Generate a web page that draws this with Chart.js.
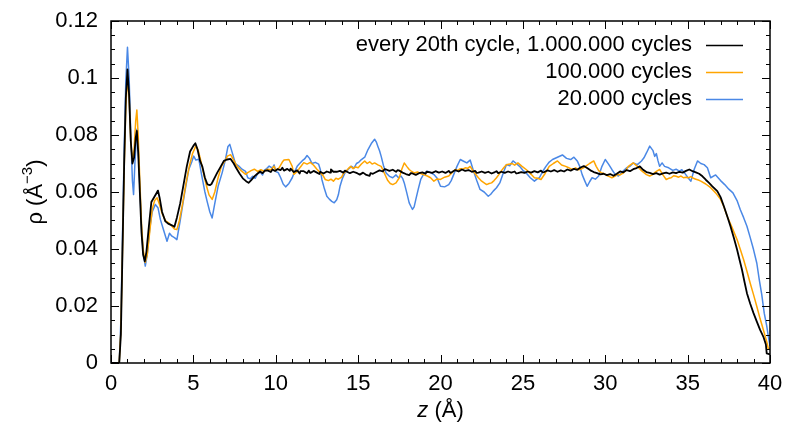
<!DOCTYPE html>
<html>
<head>
<meta charset="utf-8">
<script src="https://cdn.jsdelivr.net/npm/chart.js@4"></script>
<style>
  html, body { margin: 0; padding: 0; background: #fff; }
  #wrap { width: 787px; height: 430px; }
</style>
</head>
<body>
<div id="wrap"><canvas id="rhoChart" width="787" height="430"></canvas></div>
<script>
// z (Å) und rho (Å^-3)
const blackZ = [0,0.5,0.6,0.7,0.8,0.9,1.0,1.1,1.2,1.3,1.4,1.5,1.57,1.65,1.75,1.85,1.95,2.05,2.15,2.3,2.45,2.6,2.75,2.85,2.95,3.1,3.3,3.5,3.7,3.85,4.0,4.2,4.4,4.6,4.8,5.0,5.12,5.25,5.4,5.55,5.7,5.85,6.0,6.1,6.25,6.45,6.65,6.85,7.05,7.26,7.45,7.6,7.8,8.0,8.2,8.35,8.5,8.7,8.9,9.05,9.2,9.35,9.5,9.7,9.8,9.95,10.1,10.3,10.4,10.5,10.7,10.85,10.9,11.1,11.3,11.45,11.5,11.7,11.9,12.0,12.1,12.3,12.5,12.65,12.7,12.9,13.1,13.3,13.35,13.5,13.7,13.9,14.1,14.2,14.3,14.5,14.7,14.9,15.0,15.1,15.3,15.5,15.7,15.75,15.9,16.1,16.3,16.5,16.6,16.7,16.9,17.1,17.3,17.4,17.5,17.7,17.9,18.1,18.2,18.3,18.5,18.7,18.9,19.1,19.15,19.3,19.5,19.7,19.9,20.1,20.3,20.5,20.6,20.7,20.9,21.1,21.3,21.5,21.7,21.9,22.1,22.2,22.3,22.5,22.7,22.9,23.1,23.3,23.4,23.5,23.7,23.9,24.1,24.3,24.5,24.6,24.7,24.9,25.1,25.3,25.5,25.7,25.9,26.1,26.2,26.3,26.5,26.7,26.9,27.1,27.3,27.5,27.7,27.9,28.1,28.3,28.5,28.7,28.9,29.1,29.3,29.5,29.7,29.9,30.1,30.3,30.5,30.7,30.9,31.1,31.3,31.5,31.7,31.9,32.1,32.3,32.5,32.7,32.9,33.1,33.3,33.5,33.7,33.9,34.1,34.3,34.5,34.7,34.9,35.1,35.3,35.5,35.7,35.9,36.1,36.3,36.5,36.8,37.0,37.2,37.4,37.6,37.8,38.0,38.15,38.3,38.45,38.6,38.8,39.0,39.2,39.4,39.6,39.75,39.8,40];
const blackRho = [0,0,0.01,0.04,0.07,0.093,0.103,0.094,0.078,0.070,0.072,0.079,0.0814,0.074,0.06,0.046,0.038,0.0357,0.039,0.048,0.0565,0.058,0.0595,0.0605,0.058,0.053,0.0497,0.0488,0.0483,0.0478,0.051,0.056,0.0625,0.069,0.0742,0.0762,0.0771,0.075,0.071,0.0688,0.065,0.0627,0.0624,0.0628,0.0645,0.0668,0.0688,0.0709,0.0714,0.0716,0.0700,0.0684,0.0665,0.0648,0.0638,0.0632,0.0641,0.0655,0.0665,0.0672,0.0666,0.0675,0.0676,0.0670,0.0679,0.0674,0.0680,0.0677,0.0685,0.0675,0.0681,0.0674,0.0682,0.0670,0.0676,0.0665,0.0673,0.0673,0.0666,0.0675,0.0667,0.0674,0.0668,0.0663,0.0671,0.0665,0.0672,0.0668,0.0679,0.0671,0.0671,0.0674,0.0668,0.0675,0.0672,0.0666,0.0671,0.0667,0.0664,0.0661,0.0668,0.0660,0.0657,0.0666,0.0664,0.0670,0.0676,0.0672,0.0680,0.0679,0.0674,0.0678,0.0671,0.0677,0.0675,0.0668,0.0663,0.0659,0.0666,0.0665,0.0660,0.0666,0.0669,0.0664,0.0671,0.0670,0.0667,0.0673,0.0668,0.0672,0.0667,0.0674,0.0667,0.0670,0.0677,0.0672,0.0679,0.0674,0.0677,0.0671,0.0674,0.0667,0.0668,0.0672,0.0667,0.0671,0.0665,0.0670,0.0673,0.0666,0.0671,0.0667,0.0672,0.0668,0.0672,0.0665,0.0666,0.0670,0.0667,0.0672,0.0668,0.0673,0.0669,0.0675,0.0669,0.0670,0.0676,0.0672,0.0677,0.0671,0.0676,0.0672,0.0679,0.0675,0.0681,0.0678,0.0686,0.0691,0.0684,0.0676,0.0670,0.0666,0.0662,0.0664,0.0659,0.0663,0.0657,0.0664,0.0672,0.0669,0.0677,0.0673,0.0680,0.0684,0.0690,0.0678,0.0670,0.0667,0.0663,0.0666,0.0661,0.0665,0.0668,0.0664,0.0669,0.0666,0.0671,0.0668,0.0674,0.0679,0.0673,0.0669,0.0664,0.0655,0.0643,0.0632,0.0620,0.0603,0.0582,0.0550,0.0516,0.0480,0.0440,0.0398,0.0362,0.0327,0.0285,0.0245,0.0208,0.0175,0.0145,0.0116,0.0092,0.0065,0.0034,0.0030];

const orangeZ = [0,0.5,0.6,0.7,0.8,0.9,1.0,1.1,1.2,1.3,1.4,1.5,1.57,1.65,1.75,1.85,1.95,2.08,2.2,2.35,2.5,2.65,2.8,2.95,3.1,3.3,3.5,3.7,3.85,4.0,4.15,4.35,4.55,4.75,4.95,5.15,5.3,5.45,5.6,5.8,5.95,6.14,6.3,6.5,6.7,6.95,7.06,7.26,7.45,7.65,7.9,8.17,8.3,8.5,8.7,8.9,9.1,9.3,9.5,9.7,9.9,10.0,10.2,10.4,10.5,10.8,11.0,11.1,11.3,11.5,11.7,11.9,12.1,12.3,12.5,12.7,12.9,13.0,13.2,13.35,13.5,13.65,13.8,14.0,14.1,14.25,14.4,14.55,14.7,14.85,15.0,15.2,15.4,15.55,15.7,15.85,16.0,16.2,16.4,16.6,16.8,16.95,17.1,17.3,17.5,17.65,17.8,17.95,18.1,18.25,18.4,18.6,18.8,19.0,19.2,19.4,19.6,19.8,20.0,20.25,20.5,20.7,20.9,21.05,21.2,21.35,21.5,21.65,21.8,22.0,22.3,22.5,22.65,22.8,22.95,23.1,23.25,23.4,23.55,23.7,23.85,24.0,24.2,24.35,24.5,24.7,24.95,25.2,25.35,25.5,25.7,25.9,26.1,26.35,26.6,26.85,27.1,27.35,27.6,27.75,27.9,28.05,28.2,28.35,28.5,28.65,28.8,29.05,29.3,29.45,29.6,29.75,29.9,30.1,30.25,30.4,30.6,30.75,30.9,31.1,31.25,31.4,31.55,31.7,31.95,32.2,32.35,32.5,32.7,32.85,33.0,33.15,33.3,33.5,33.7,33.85,34.0,34.15,34.3,34.45,34.6,34.75,34.9,35.05,35.2,35.35,35.5,35.65,35.8,36.1,36.4,36.7,37.0,37.2,37.4,37.7,38.0,38.2,38.4,38.6,38.8,39.0,39.2,39.4,39.6,39.8,39.9,40];
const orangeRho = [0,0,0.012,0.04,0.068,0.09,0.100,0.093,0.078,0.071,0.075,0.085,0.0888,0.080,0.064,0.049,0.040,0.0353,0.038,0.046,0.054,0.057,0.058,0.0555,0.0525,0.0500,0.0492,0.0480,0.0470,0.0468,0.0500,0.0560,0.0630,0.0690,0.0735,0.0762,0.0745,0.0710,0.0670,0.0620,0.0590,0.0574,0.0600,0.0650,0.0690,0.0712,0.0726,0.0731,0.0712,0.0690,0.0675,0.0662,0.0668,0.0675,0.0680,0.0672,0.0678,0.0672,0.0680,0.0678,0.0690,0.0675,0.0685,0.0705,0.0712,0.0714,0.0690,0.0662,0.0672,0.0688,0.0703,0.0698,0.0704,0.0694,0.0680,0.0668,0.0655,0.0644,0.0640,0.0645,0.0638,0.0648,0.0645,0.0652,0.0664,0.0672,0.0682,0.0690,0.0682,0.0688,0.0685,0.0698,0.0709,0.0700,0.0706,0.0698,0.0702,0.0695,0.0690,0.0665,0.0640,0.0630,0.0626,0.0632,0.0650,0.0680,0.0702,0.0690,0.0679,0.0672,0.0667,0.0670,0.0665,0.0660,0.0656,0.0650,0.0638,0.0646,0.0644,0.0652,0.0656,0.0668,0.0679,0.0676,0.0682,0.0680,0.0685,0.0683,0.0690,0.0672,0.0650,0.0638,0.0632,0.0626,0.0630,0.0632,0.0640,0.0650,0.0662,0.0675,0.0686,0.0696,0.0698,0.0700,0.0694,0.0702,0.0690,0.0679,0.0670,0.0662,0.0650,0.0648,0.0644,0.0665,0.0690,0.0700,0.0709,0.0695,0.0690,0.0686,0.0682,0.0680,0.0685,0.0678,0.0680,0.0684,0.0690,0.0700,0.0709,0.0690,0.0675,0.0668,0.0665,0.0658,0.0654,0.0650,0.0656,0.0662,0.0660,0.0667,0.0676,0.0690,0.0696,0.0702,0.0690,0.0675,0.0668,0.0661,0.0656,0.0660,0.0668,0.0674,0.0679,0.0660,0.0644,0.0648,0.0650,0.0657,0.0655,0.0652,0.0656,0.0650,0.0652,0.0650,0.0654,0.0648,0.0645,0.0642,0.0638,0.0628,0.0615,0.0597,0.0574,0.0548,0.0515,0.0475,0.0433,0.0398,0.0362,0.0322,0.0280,0.0240,0.0198,0.0155,0.0116,0.0075,0.0050,0.0048];

const blueZ = [0,0.5,0.6,0.7,0.8,0.9,1.0,1.1,1.2,1.3,1.37,1.45,1.57,1.65,1.75,1.85,1.95,2.08,2.2,2.35,2.5,2.69,2.85,3.0,3.2,3.4,3.55,3.7,3.85,4.0,4.2,4.45,4.72,4.9,5.02,5.15,5.33,5.5,5.7,5.83,6.0,6.14,6.3,6.5,6.75,6.95,7.1,7.21,7.35,7.55,7.76,7.95,8.17,8.3,8.45,8.6,8.75,8.9,9.05,9.2,9.3,9.45,9.6,9.8,9.9,10.0,10.15,10.3,10.45,10.6,10.8,11.0,11.15,11.3,11.45,11.6,11.75,11.9,12.05,12.2,12.4,12.6,12.7,12.8,12.95,13.1,13.25,13.4,13.55,13.7,13.8,13.9,14.05,14.2,14.4,14.6,14.75,14.9,15.05,15.2,15.4,15.6,15.8,16.0,16.1,16.2,16.3,16.4,16.55,16.7,16.9,17.1,17.3,17.45,17.6,17.7,17.8,17.95,18.1,18.2,18.3,18.4,18.5,18.65,18.8,19.0,19.2,19.4,19.6,19.8,20.0,20.25,20.5,20.65,20.8,21.0,21.2,21.4,21.6,21.8,21.97,22.2,22.4,22.65,22.9,23.05,23.2,23.4,23.6,23.8,24.0,24.2,24.4,24.6,24.8,25.0,25.2,25.45,25.7,25.85,26.0,26.2,26.4,26.6,26.8,27.1,27.4,27.65,27.9,28.1,28.3,28.45,28.6,28.75,28.9,29.05,29.2,29.4,29.6,29.8,30.0,30.2,30.4,30.6,30.8,31.05,31.3,31.5,31.7,31.95,32.2,32.35,32.5,32.7,32.9,33.0,33.1,33.2,33.3,33.45,33.6,33.85,34.1,34.3,34.5,34.65,34.8,35.0,35.2,35.4,35.6,35.8,36.0,36.2,36.4,36.7,37.0,37.25,37.5,37.75,38.0,38.2,38.4,38.6,38.8,39.0,39.2,39.35,39.5,39.65,39.8,39.9,40];
const blueRho = [0,0,0.015,0.045,0.075,0.099,0.1108,0.100,0.080,0.064,0.0591,0.070,0.082,0.076,0.062,0.048,0.039,0.034,0.038,0.047,0.053,0.0556,0.0545,0.0503,0.0465,0.0427,0.0455,0.0445,0.0440,0.0433,0.0500,0.0590,0.0679,0.0705,0.0726,0.0712,0.0715,0.0660,0.0600,0.0568,0.0530,0.0509,0.0560,0.0620,0.0668,0.0715,0.0760,0.0767,0.0740,0.0700,0.0691,0.0680,0.0672,0.0650,0.0646,0.0655,0.0648,0.0664,0.0670,0.0660,0.0676,0.0682,0.0691,0.0684,0.0695,0.0672,0.0668,0.0650,0.0628,0.0618,0.0630,0.0650,0.0672,0.0690,0.0700,0.0709,0.0716,0.0728,0.0718,0.0700,0.0704,0.0698,0.0680,0.0644,0.0612,0.0585,0.0575,0.0567,0.0562,0.0573,0.0590,0.0620,0.0648,0.0667,0.0680,0.0690,0.0684,0.0700,0.0705,0.0714,0.0722,0.0749,0.0770,0.0785,0.0776,0.0760,0.0745,0.0725,0.0690,0.0667,0.0655,0.0650,0.0660,0.0650,0.0656,0.0648,0.0632,0.0598,0.0562,0.0550,0.0539,0.0548,0.0573,0.0610,0.0644,0.0665,0.0673,0.0668,0.0661,0.0648,0.0620,0.0618,0.0626,0.0640,0.0661,0.0690,0.0714,0.0708,0.0702,0.0712,0.0680,0.0640,0.0609,0.0600,0.0585,0.0592,0.0603,0.0615,0.0632,0.0665,0.0696,0.0692,0.0709,0.0700,0.0690,0.0676,0.0667,0.0650,0.0638,0.0645,0.0650,0.0672,0.0690,0.0705,0.0714,0.0722,0.0730,0.0718,0.0714,0.0722,0.0709,0.0690,0.0661,0.0640,0.0620,0.0636,0.0650,0.0645,0.0656,0.0690,0.0714,0.0698,0.0679,0.0662,0.0656,0.0672,0.0685,0.0690,0.0702,0.0696,0.0709,0.0720,0.0737,0.0761,0.0745,0.0725,0.0735,0.0710,0.0690,0.0702,0.0690,0.0685,0.0676,0.0680,0.0673,0.0678,0.0668,0.0652,0.0638,0.0680,0.0709,0.0700,0.0696,0.0685,0.0650,0.0660,0.0640,0.0626,0.0610,0.0597,0.0570,0.0538,0.0510,0.0480,0.0440,0.0398,0.0350,0.0292,0.0240,0.0175,0.0130,0.0093,0.0060,0.0060];

const seriesLabels = ['every 20th cycle, 1.000.000 cycles', '100.000 cycles', '20.000 cycles'];
const seriesColors = ['#000000', '#ffa500', '#4a88e6'];
const seriesWidths = [1.8, 1.5, 1.5];
const xTicks = [0, 5, 10, 15, 20, 25, 30, 35, 40];
const yTicks = [0, 0.02, 0.04, 0.06, 0.08, 0.1, 0.12];

const FONT = '"Liberation Sans", Arial, sans-serif';
const FS = 22;

function toPoints(zs, rs) {
    return zs.map((z, i) => ({ x: z, y: rs[i] }));
}

// Rahmen, Ticks nach innen, Achsentitel und Legende
const framePlugin = {
    id: 'frame',
    afterDraw(chart) {
        const ctx = chart.ctx;
        const a = chart.chartArea;
        const xs = chart.scales.x, ys = chart.scales.y;
        ctx.save();
        ctx.strokeStyle = '#000';
        ctx.lineWidth = 1.5;
        ctx.strokeRect(a.left, a.top, a.right - a.left, a.bottom - a.top);

        ctx.lineWidth = 1;
        ctx.beginPath();
        for (let v = 0; v <= 40; v += 1) {
            const px = Math.round(xs.getPixelForValue(v)) + 0.5;
            const len = v % 5 === 0 ? 8 : 4;
            ctx.moveTo(px, a.bottom); ctx.lineTo(px, a.bottom - len);
            ctx.moveTo(px, a.top); ctx.lineTo(px, a.top + len);
        }
        for (let k = 0; k <= 24; k++) {
            const v = k * 0.005;
            const py = Math.round(ys.getPixelForValue(v)) + 0.5;
            const len = k % 4 === 0 ? 8 : 4;
            ctx.moveTo(a.left, py); ctx.lineTo(a.left + len, py);
            ctx.moveTo(a.right, py); ctx.lineTo(a.right - len, py);
        }
        ctx.stroke();

        // x-Titel: z (Å)
        ctx.fillStyle = '#000';
        ctx.textBaseline = 'middle';
        const cx = (a.left + a.right) / 2;
        ctx.font = 'italic ' + FS + 'px ' + FONT;
        const zW = ctx.measureText('z').width;
        ctx.font = FS + 'px ' + FONT;
        const restW = ctx.measureText(' (Å)').width;
        const sx = cx - (zW + restW) / 2;
        ctx.font = 'italic ' + FS + 'px ' + FONT;
        ctx.textAlign = 'left';
        ctx.fillText('z', sx, 411);
        ctx.font = FS + 'px ' + FONT;
        ctx.fillText(' (Å)', sx + zW, 411);

        // y-Titel: ρ (Å^-3)
        ctx.save();
        ctx.translate(36, (a.top + a.bottom) / 2);
        ctx.rotate(-Math.PI / 2);
        ctx.font = FS + 'px ' + FONT;
        const p1 = 'ρ (Å', p3 = ')';
        const w1 = ctx.measureText(p1).width, w3 = ctx.measureText(p3).width;
        ctx.font = '15px ' + FONT;
        const w2 = ctx.measureText('−3').width;
        const tx = -(w1 + w2 + w3) / 2;
        ctx.font = FS + 'px ' + FONT;
        ctx.fillText(p1, tx, 0);
        ctx.font = '15px ' + FONT;
        ctx.fillText('−3', tx + w1, -8);
        ctx.font = FS + 'px ' + FONT;
        ctx.fillText(p3, tx + w1 + w2, 0);
        ctx.restore();

        // Legende oben rechts
        ctx.font = FS + 'px ' + FONT;
        ctx.textAlign = 'right';
        chart.data.datasets.forEach((ds, i) => {
            const y = 45 + i * 27;
            ctx.fillStyle = '#000';
            ctx.fillText(ds.label, 692, y);
            ctx.strokeStyle = ds.borderColor;
            ctx.lineWidth = 1.5;
            ctx.beginPath();
            ctx.moveTo(706, y + 0.5);
            ctx.lineTo(743, y + 0.5);
            ctx.stroke();
        });
        ctx.restore();
    }
};

const ctx = document.getElementById('rhoChart').getContext('2d');
const rhoChart = new Chart(ctx, {
    type: 'line',
    data: {
        datasets: [
            { label: seriesLabels[0], data: toPoints(blackZ, blackRho), borderColor: seriesColors[0], borderWidth: seriesWidths[0] },
            { label: seriesLabels[1], data: toPoints(orangeZ, orangeRho), borderColor: seriesColors[1], borderWidth: seriesWidths[1] },
            { label: seriesLabels[2], data: toPoints(blueZ, blueRho), borderColor: seriesColors[2], borderWidth: seriesWidths[2] }
        ]
    },
    options: {
        responsive: false,
        animation: false,
        layout: { padding: { left: 0, top: 21, right: 17, bottom: 0 } },
        elements: {
            point: { radius: 0 },
            line: { tension: 0, borderJoinStyle: 'round' }
        },
        plugins: {
            legend: { display: false },
            tooltip: { enabled: false }
        },
        scales: {
            x: {
                type: 'linear',
                min: 0, max: 40,
                afterBuildTicks: s => { s.ticks = xTicks.map(v => ({ value: v })); },
                afterFit: s => { s.height = 67; s.paddingLeft = 0; s.paddingRight = 0; },
                grid: { display: false, drawTicks: false },
                border: { display: false },
                ticks: { color: '#000', padding: 8, font: { family: FONT, size: FS }, maxRotation: 0 }
            },
            y: {
                min: 0, max: 0.12,
                afterBuildTicks: s => { s.ticks = yTicks.map(v => ({ value: v })); },
                afterFit: s => { s.width = 111; s.paddingTop = 0; s.paddingBottom = 0; },
                grid: { display: false, drawTicks: false },
                border: { display: false },
                ticks: {
                    color: '#000', padding: 13, font: { family: FONT, size: FS },
                    callback: v => String(parseFloat(v.toFixed(3)))
                }
            }
        }
    },
    plugins: [framePlugin]
});
</script>
</body>
</html>
